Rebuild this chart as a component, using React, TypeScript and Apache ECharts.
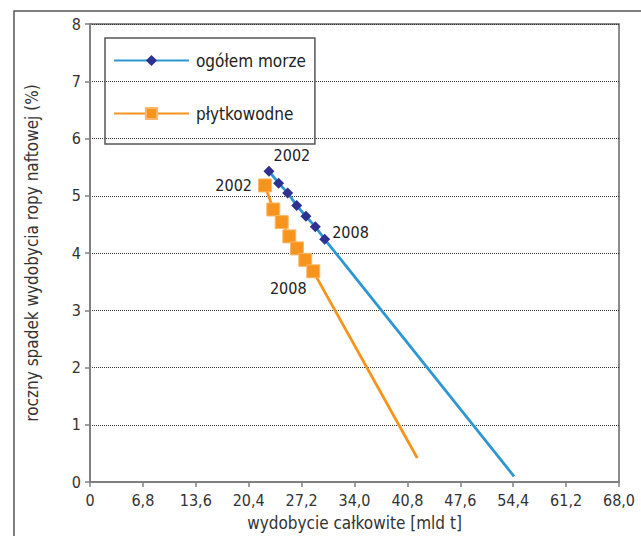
import React, { useEffect, useRef } from "react";
import * as echarts from "echarts";

const years = ["2002", "2003", "2004", "2005", "2006", "2007", "2008"];
const totalX = [23.0, 24.25, 25.41, 26.57, 27.76, 28.96, 30.17];
const totalY = [5.43, 5.22, 5.05, 4.83, 4.64, 4.46, 4.24];
const totalEnd = [54.5, 0.1];
const shallowX = [22.49, 23.56, 24.64, 25.62, 26.61, 27.67, 28.7];
const shallowY = [5.18, 4.76, 4.54, 4.29, 4.08, 3.88, 3.68];
const shallowEnd = [42.07, 0.42];
const seriesNames = ["ogółem morze", "płytkowodne"];

const FONT = "'Liberation Sans Narrow', 'DejaVu Sans Condensed', 'Roboto', sans-serif";

type LabelSpec = { position: any; distance: number; offset: number[] };

function buildData(xs: number[], ys: number[], end: number[], labels: Record<number, LabelSpec>) {
  const data: any[] = xs.map((x, i) => {
    const item: any = { value: [x, ys[i]] };
    if (labels[i]) {
      item.label = {
        show: true,
        formatter: years[i],
        position: labels[i].position,
        distance: labels[i].distance,
        offset: labels[i].offset,
        fontFamily: FONT,
        fontSize: 16,
        color: "#222",
      };
    }
    return item;
  });
  data.push({ value: end, symbol: "none" });
  return data;
}

export default function App() {
  const ref = useRef<HTMLDivElement>(null);
  useEffect(() => {
    if (!ref.current) return;
    const chart = echarts.init(ref.current, undefined, { renderer: "svg" });
    const last = years.length - 1;
    chart.setOption({
      animation: false,
      backgroundColor: "#fff",
      textStyle: { fontFamily: FONT },
      grid: {
        left: 90,
        top: 24,
        right: 22,
        bottom: 51,
        show: true,
        borderColor: "#666",
        borderWidth: 1.5,
        containLabel: false,
      },
      graphic: [
        {
          type: "rect",
          shape: { x: 14, y: 11, width: 660, height: 560 },
          style: { fill: "none", stroke: "#555", lineWidth: 1.5 },
          silent: true,
          z: -1,
        },
      ],
      legend: {
        orient: "vertical",
        left: 105,
        top: 38,
        padding: [14, 9, 22, 8],
        itemGap: 36,
        itemWidth: 75,
        itemHeight: 14,
        borderColor: "#555",
        borderWidth: 1.5,
        textStyle: { fontFamily: FONT, fontSize: 17, color: "#222", padding: [0, 0, 0, 2] },
        data: seriesNames,
      },
      xAxis: {
        type: "value",
        min: 0,
        max: 68,
        interval: 6.8,
        name: "wydobycie całkowite [mld t]",
        nameLocation: "middle",
        nameGap: 32,
        nameTextStyle: { fontFamily: FONT, fontSize: 17, color: "#333" },
        axisLine: { show: true, lineStyle: { color: "#808080", width: 2 } },
        axisTick: { show: true, length: 5, lineStyle: { color: "#808080", width: 1.5 } },
        axisLabel: {
          margin: 10,
          fontFamily: FONT,
          fontSize: 16,
          color: "#333",
          formatter: (v: number) => (v === 0 ? "0" : v.toFixed(1).replace(".", ",")),
        },
        splitLine: { show: false },
      },
      yAxis: {
        type: "value",
        min: 0,
        max: 8,
        interval: 1,
        name: "roczny spadek wydobycia ropy naftowej (%)",
        nameLocation: "middle",
        nameGap: 50,
        nameTextStyle: { fontFamily: FONT, fontSize: 17, color: "#333" },
        axisLine: { show: true, lineStyle: { color: "#808080", width: 2 } },
        axisTick: { show: true, length: 5, lineStyle: { color: "#808080", width: 1.5 } },
        axisLabel: { margin: 9, fontFamily: FONT, fontSize: 16, color: "#333" },
        splitLine: { show: true, lineStyle: { type: "dotted", color: "#333", width: 1 } },
      },
      series: [
        {
          name: seriesNames[0],
          type: "line",
          symbol: "diamond",
          symbolSize: 11,
          showAllSymbol: true,
          lineStyle: { color: "#2f97d0", width: 2.8 },
          itemStyle: { color: "#2e3192" },
          z: 3,
          data: buildData(totalX, totalY, totalEnd, {
            0: { position: "top", distance: 2, offset: [23, 0] },
            [last]: { position: "right", distance: 2, offset: [0, -7] },
          }),
        },
        {
          name: seriesNames[1],
          type: "line",
          symbol: "rect",
          symbolSize: 13,
          showAllSymbol: true,
          lineStyle: { color: "#f7941d", width: 2.8 },
          itemStyle: { color: "#f7941d", borderColor: "#fbb868", borderWidth: 1 },
          z: 2,
          data: buildData(shallowX, shallowY, shallowEnd, {
            0: { position: "left", distance: 6, offset: [0, 0] },
            [last]: { position: "bottom", distance: 2, offset: [-25, 0] },
          }),
        },
      ],
    });
    return () => chart.dispose();
  }, []);
  return <div ref={ref} style={{ position: "fixed", left: 0, top: 0, width: 641, height: 536 }} />;
}
